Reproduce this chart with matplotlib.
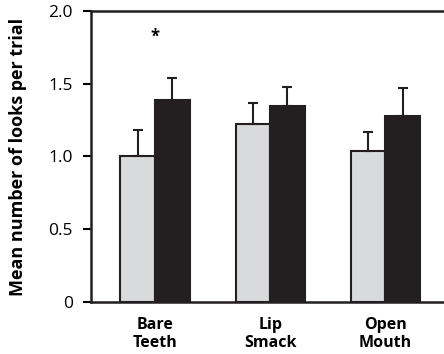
import numpy as np
import matplotlib.pyplot as plt

plt.rcParams['font.family'] = ['Open Sans', 'DejaVu Sans']

categories = ['Bare\nTeeth', 'Lip\nSmack', 'Open\nMouth']
grey_means = [1.00, 1.22, 1.04]
grey_err = [0.18, 0.15, 0.13]
black_means = [1.39, 1.35, 1.28]
black_err = [0.15, 0.13, 0.19]

fig = plt.figure(figsize=(4.44, 3.54), dpi=100)
ax = fig.add_axes([0.205, 0.147, 0.795, 0.822])

x = np.arange(len(categories))
w = 0.3
err_kw = dict(ecolor='#231f20', elinewidth=1.5, capsize=3.5, capthick=1.5)
ax.bar(x - w / 2, grey_means, w, yerr=[np.zeros(3), grey_err],
       color='#d9dadc', edgecolor='#231f20', linewidth=1.5, error_kw=err_kw)
ax.bar(x + w / 2, black_means, w, yerr=[np.zeros(3), black_err],
       color='#231f20', edgecolor='#231f20', linewidth=1.5, error_kw=err_kw)

# significance marker over Bare Teeth
ax.text(0, 1.82, '*', ha='center', va='center', fontsize=12, fontweight='bold')

ax.set_xlim(-0.556, 2.51)
ax.set_ylim(0, 2.0)
ax.set_yticks([0, 0.5, 1.0, 1.5, 2.0])
ax.set_yticklabels(['0', '0.5', '1.0', '1.5', '2.0'], fontsize=12.5)
ax.set_xticks(x)
ax.set_xticklabels(categories, fontsize=11.5, fontweight='bold', linespacing=1.15)
ax.tick_params(axis='x', length=0, pad=11)
ax.tick_params(axis='y', length=6, width=1.5, direction='out', pad=7)
ax.set_ylabel('Mean number of looks per trial', fontsize=13, fontweight='bold')
ax.yaxis.set_label_coords(-0.18, 0.5)

for side in ['left', 'top', 'bottom']:
    ax.spines[side].set_linewidth(1.8)
    ax.spines[side].set_color('#231f20')
ax.spines['right'].set_visible(False)

fig.savefig('out.png', dpi=100)
